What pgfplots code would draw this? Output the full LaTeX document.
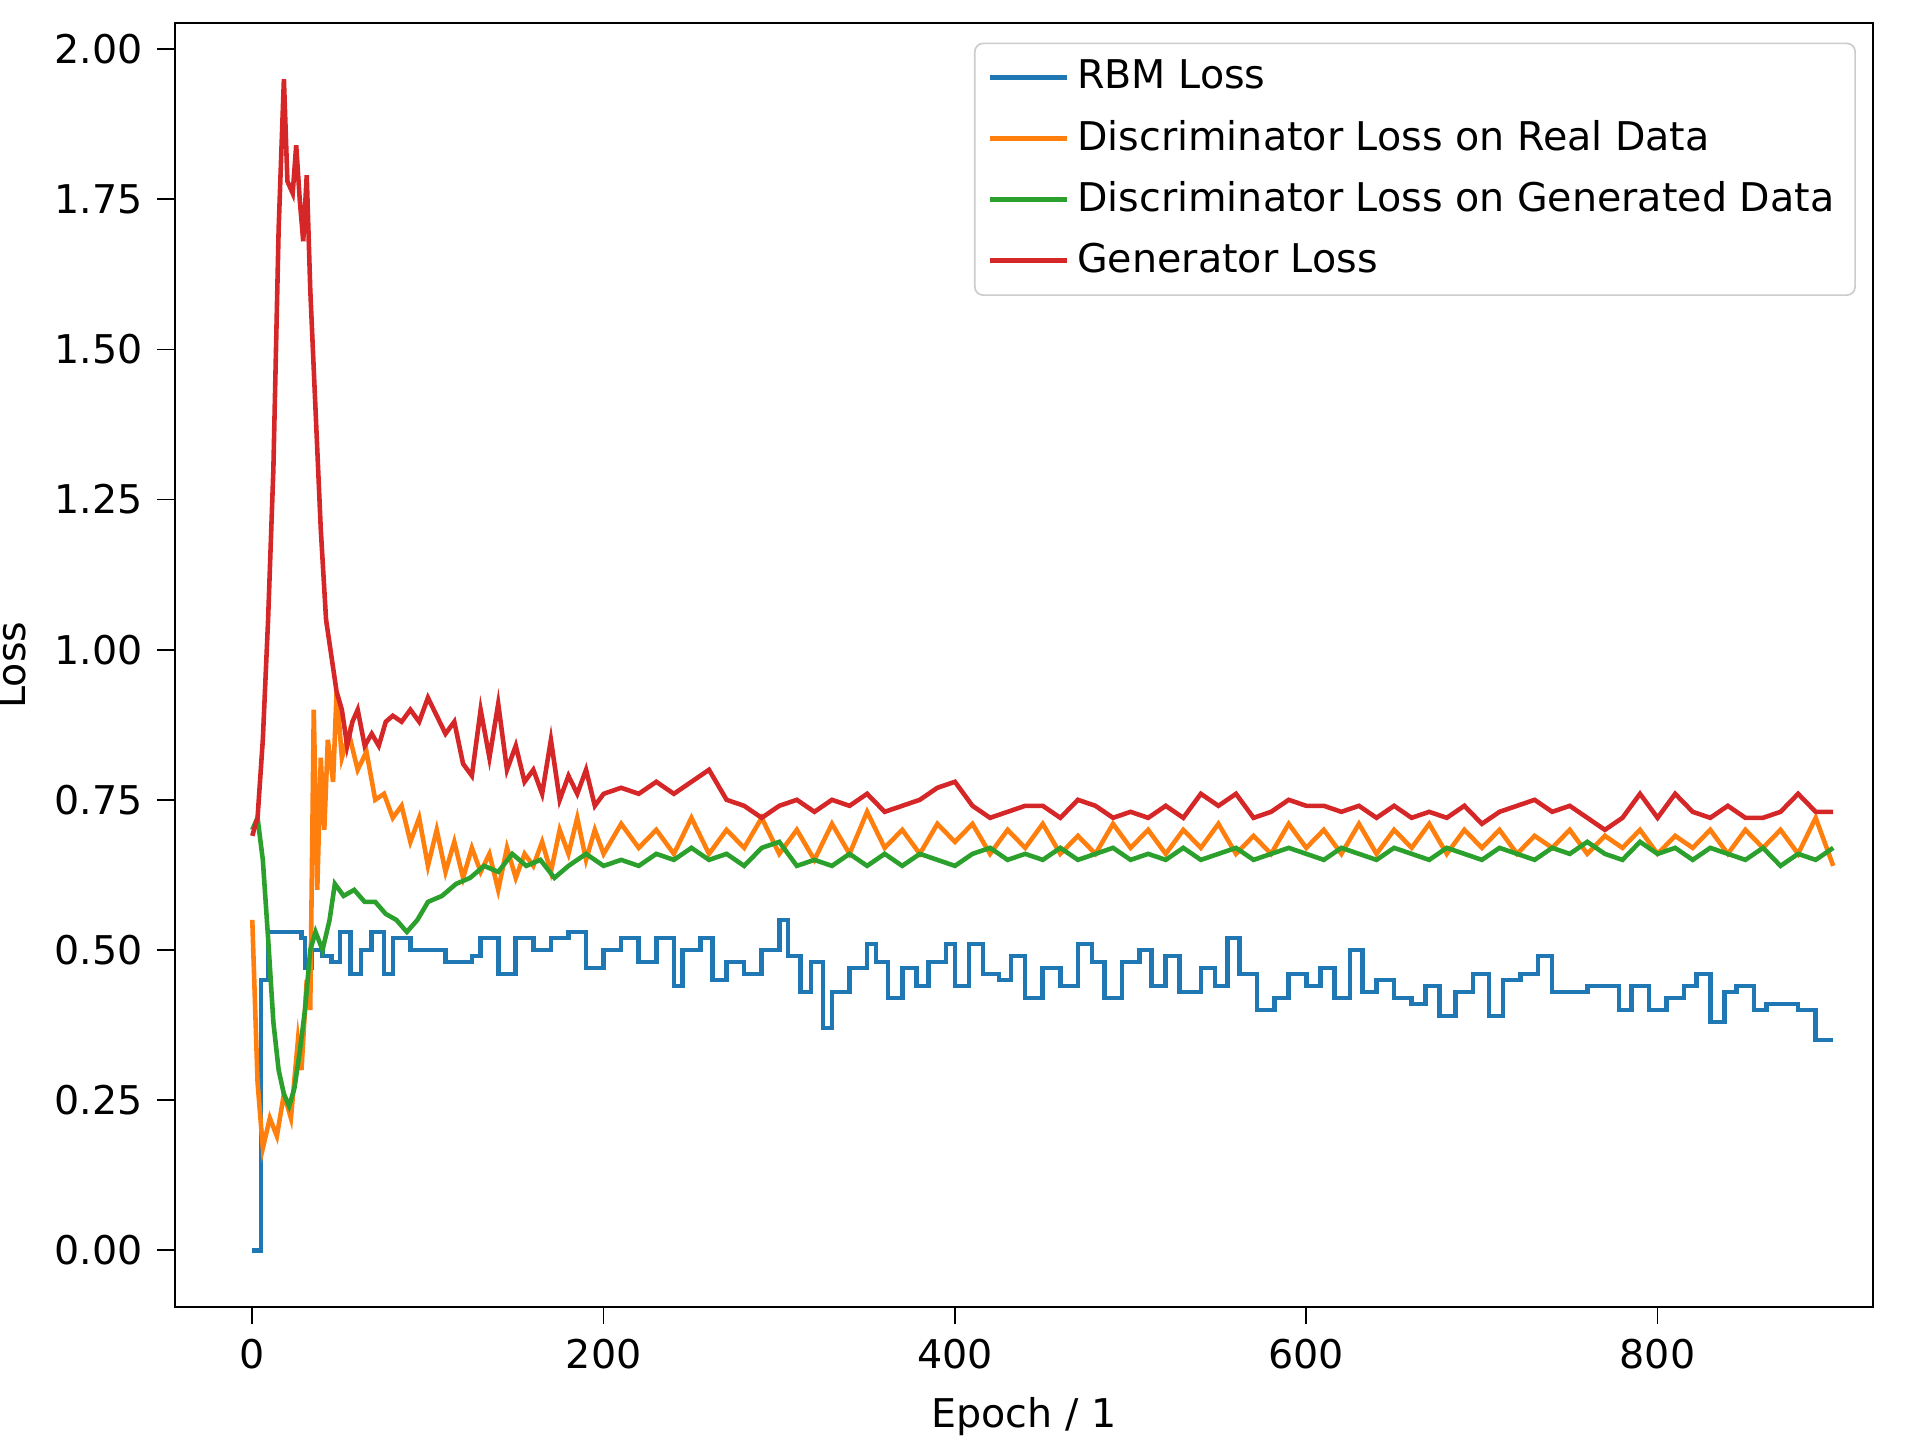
\documentclass[border=0pt]{standalone}
\usepackage{pgfplots}
\pgfplotsset{compat=1.18}
\usepackage{fontspec}
\setmainfont{DejaVu Sans}
\definecolor{c0}{HTML}{1F77B4}
\definecolor{c1}{HTML}{FF7F0E}
\definecolor{c2}{HTML}{2CA02C}
\definecolor{c3}{HTML}{D62728}
\begin{document}
\begin{tikzpicture}
\useasboundingbox (-42pt,-32pt) rectangle (418.8pt,313.6pt);
\begin{axis}[at={(0,0)},anchor=south west,scale only axis,width=407.5pt,height=308pt,
 xmin=-44,xmax=922.6,ymin=-0.094,ymax=2.043,
 xtick={0,200,400,600,800},ytick={0,0.25,0.5,0.75,1,1.25,1.5,1.75,2},
 yticklabel style={/pgf/number format/.cd,fixed,fixed zerofill,precision=2},
 /pgf/number format/assume math mode=true,
 tick label style={font=\fontsize{9.5}{11}\selectfont},
 label style={font=\fontsize{9.5}{11}\selectfont},
 tick align=outside,tick style={black,thin},
 xtick pos=bottom, ytick pos=left,
 title={Losses}, xlabel={Epoch / 1}, ylabel={Loss},
 legend style={at={(0.99,0.985)},anchor=north east,draw=black!20,rounded corners=2pt,font=\fontsize{9.5}{11}\selectfont,row sep=2pt,inner xsep=3pt},
 legend cell align=left,
 legend image code/.code={\draw[#1,sharp plot] (0cm,0cm) -- (0.65cm,0cm);},
 every axis plot/.append style={line width=1.1pt}]
\addplot[c0,const plot] coordinates {(0,0)(5,0.45)(9,0.53)(28,0.52)(30,0.47)(34,0.50)(40,0.49)(45,0.48)(50,0.53)(56,0.46)(62,0.50)(68,0.53)(75,0.46)(80,0.52)(90,0.50)(100,0.50)(110,0.48)(125,0.49)(130,0.52)(140,0.46)(150,0.52)(160,0.50)(170,0.52)(180,0.53)(190,0.47)(200,0.50)(210,0.52)(220,0.48)(230,0.52)(240,0.44)(245,0.50)(255,0.52)(262,0.45)(270,0.48)(280,0.46)(290,0.50)(300,0.55)(305,0.49)(312,0.43)(318,0.48)(325,0.37)(330,0.43)(340,0.47)(350,0.51)(355,0.48)(362,0.42)(370,0.47)(378,0.44)(385,0.48)(395,0.51)(400,0.44)(408,0.51)(416,0.46)(425,0.45)(432,0.49)(440,0.42)(450,0.47)(460,0.44)(470,0.51)(478,0.48)(485,0.42)(495,0.48)(505,0.50)(512,0.44)(520,0.49)(528,0.43)(540,0.47)(548,0.44)(555,0.52)(562,0.46)(572,0.40)(582,0.42)(590,0.46)(600,0.44)(608,0.47)(616,0.42)(625,0.50)(632,0.43)(640,0.45)(650,0.42)(660,0.41)(668,0.44)(676,0.39)(685,0.43)(695,0.46)(704,0.39)(712,0.45)(722,0.46)(732,0.49)(740,0.43)(750,0.43)(760,0.44)(770,0.44)(778,0.40)(785,0.44)(795,0.40)(805,0.42)(815,0.44)(822,0.46)(830,0.38)(838,0.43)(845,0.44)(855,0.40)(862,0.41)(870,0.41)(880,0.40)(890,0.35)(900,0.35)};
\addlegendentry{RBM Loss}
\addplot[c1] coordinates {(0,0.55)(3,0.28)(6,0.17)(10,0.22)(14,0.19)(18,0.26)(22,0.22)(26,0.35)(28,0.30)(31,0.45)(33,0.40)(35,0.90)(37,0.60)(39,0.82)(41,0.70)(43,0.85)(46,0.78)(48,0.93)(51,0.82)(55,0.86)(60,0.80)(65,0.83)(70,0.75)(75,0.76)(80,0.72)(85,0.74)(90,0.68)(95,0.72)(100,0.64)(105,0.70)(110,0.63)(115,0.68)(120,0.62)(125,0.67)(130,0.63)(135,0.66)(140,0.60)(145,0.67)(150,0.62)(155,0.66)(160,0.64)(165,0.68)(170,0.63)(175,0.70)(180,0.66)(185,0.72)(190,0.65)(195,0.70)(200,0.66)(210,0.71)(220,0.67)(230,0.70)(240,0.66)(250,0.72)(260,0.66)(270,0.70)(280,0.67)(290,0.72)(300,0.66)(310,0.70)(320,0.65)(330,0.71)(340,0.66)(350,0.73)(360,0.67)(370,0.70)(380,0.66)(390,0.71)(400,0.68)(410,0.71)(420,0.66)(430,0.70)(440,0.67)(450,0.71)(460,0.66)(470,0.69)(480,0.66)(490,0.71)(500,0.67)(510,0.70)(520,0.66)(530,0.70)(540,0.67)(550,0.71)(560,0.66)(570,0.69)(580,0.66)(590,0.71)(600,0.67)(610,0.70)(620,0.66)(630,0.71)(640,0.66)(650,0.70)(660,0.67)(670,0.71)(680,0.66)(690,0.70)(700,0.67)(710,0.70)(720,0.66)(730,0.69)(740,0.67)(750,0.70)(760,0.66)(770,0.69)(780,0.67)(790,0.70)(800,0.66)(810,0.69)(820,0.67)(830,0.70)(840,0.66)(850,0.70)(860,0.67)(870,0.70)(880,0.66)(890,0.72)(900,0.64)};
\addlegendentry{Discriminator Loss on Real Data}
\addplot[c2] coordinates {(0,0.70)(3,0.72)(6,0.65)(9,0.52)(12,0.38)(15,0.30)(18,0.26)(21,0.24)(24,0.27)(27,0.33)(30,0.40)(33,0.50)(36,0.53)(40,0.50)(44,0.55)(47,0.61)(52,0.59)(58,0.60)(64,0.58)(70,0.58)(76,0.56)(82,0.55)(88,0.53)(94,0.55)(100,0.58)(108,0.59)(116,0.61)(124,0.62)(132,0.64)(140,0.63)(148,0.66)(156,0.64)(164,0.65)(172,0.62)(180,0.64)(190,0.66)(200,0.64)(210,0.65)(220,0.64)(230,0.66)(240,0.65)(250,0.67)(260,0.65)(270,0.66)(280,0.64)(290,0.67)(300,0.68)(310,0.64)(320,0.65)(330,0.64)(340,0.66)(350,0.64)(360,0.66)(370,0.64)(380,0.66)(390,0.65)(400,0.64)(410,0.66)(420,0.67)(430,0.65)(440,0.66)(450,0.65)(460,0.67)(470,0.65)(480,0.66)(490,0.67)(500,0.65)(510,0.66)(520,0.65)(530,0.67)(540,0.65)(550,0.66)(560,0.67)(570,0.65)(580,0.66)(590,0.67)(600,0.66)(610,0.65)(620,0.67)(630,0.66)(640,0.65)(650,0.67)(660,0.66)(670,0.65)(680,0.67)(690,0.66)(700,0.65)(710,0.67)(720,0.66)(730,0.65)(740,0.67)(750,0.66)(760,0.68)(770,0.66)(780,0.65)(790,0.68)(800,0.66)(810,0.67)(820,0.65)(830,0.67)(840,0.66)(850,0.65)(860,0.67)(870,0.64)(880,0.66)(890,0.65)(900,0.67)};
\addlegendentry{Discriminator Loss on Generated Data}
\addplot[c3] coordinates {(0,0.69)(3,0.72)(6,0.85)(9,1.05)(12,1.30)(15,1.70)(18,1.95)(20,1.78)(23,1.76)(25,1.84)(27,1.75)(29,1.68)(31,1.79)(33,1.60)(36,1.40)(39,1.20)(42,1.05)(45,0.99)(48,0.93)(51,0.90)(54,0.84)(57,0.88)(60,0.90)(64,0.84)(68,0.86)(72,0.84)(76,0.88)(80,0.89)(85,0.88)(90,0.90)(95,0.88)(100,0.92)(105,0.89)(110,0.86)(115,0.88)(120,0.81)(125,0.79)(130,0.90)(135,0.82)(140,0.91)(145,0.80)(150,0.84)(155,0.78)(160,0.80)(165,0.76)(170,0.85)(175,0.75)(180,0.79)(185,0.76)(190,0.80)(195,0.74)(200,0.76)(210,0.77)(220,0.76)(230,0.78)(240,0.76)(250,0.78)(260,0.80)(270,0.75)(280,0.74)(290,0.72)(300,0.74)(310,0.75)(320,0.73)(330,0.75)(340,0.74)(350,0.76)(360,0.73)(370,0.74)(380,0.75)(390,0.77)(400,0.78)(410,0.74)(420,0.72)(430,0.73)(440,0.74)(450,0.74)(460,0.72)(470,0.75)(480,0.74)(490,0.72)(500,0.73)(510,0.72)(520,0.74)(530,0.72)(540,0.76)(550,0.74)(560,0.76)(570,0.72)(580,0.73)(590,0.75)(600,0.74)(610,0.74)(620,0.73)(630,0.74)(640,0.72)(650,0.74)(660,0.72)(670,0.73)(680,0.72)(690,0.74)(700,0.71)(710,0.73)(720,0.74)(730,0.75)(740,0.73)(750,0.74)(760,0.72)(770,0.70)(780,0.72)(790,0.76)(800,0.72)(810,0.76)(820,0.73)(830,0.72)(840,0.74)(850,0.72)(860,0.72)(870,0.73)(880,0.76)(890,0.73)(900,0.73)};
\addlegendentry{Generator Loss}
\end{axis}
\end{tikzpicture}
\end{document}
